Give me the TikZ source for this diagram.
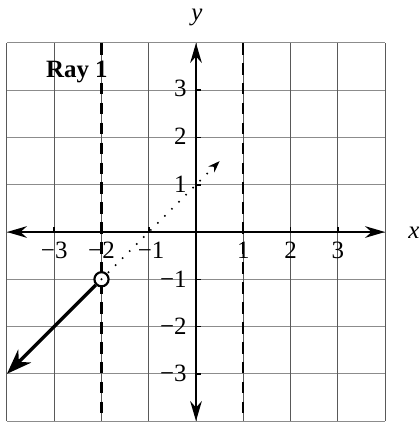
\documentclass[tikz,border=0pt]{standalone}
\usepackage{fontspec}
\setmainfont{Liberation Serif}
\usetikzlibrary{arrows.meta}
\begin{document}
\begin{tikzpicture}[
  gridv/.style={draw=black!65, line width=0.6pt},
  gridh/.style={draw=black!45, line width=0.6pt},
  axisline/.style={line width=1.2pt, {Stealth[length=12pt,width=7pt]}-{Stealth[length=12pt,width=7pt]}},
  asym/.style={line width=1.3pt, dash pattern=on 7pt off 5pt},
  tickmark/.style={line width=0.9pt},
  lab/.style={font=\fontsize{15}{18}\selectfont, inner sep=0pt},
  raystyle/.style={line width=2.1pt, -{Stealth[length=15pt,width=11pt]}},
  dotray/.style={line width=1.3pt, line cap=round, dash pattern=on 0pt off 6pt, -{Stealth[length=7pt,width=5pt]}},
  opendot/.style={circle, draw, fill=white, line width=1.3pt, minimum size=0.3cm, inner sep=0pt}
]
\useasboundingbox (-4.148,-4.063) rectangle (4.720,4.910);
% grid
\foreach \i in {-4,...,4} {
  \draw[gridh] (-4,\i) -- (4,\i);
}
\foreach \i in {-4,...,4} {
  \draw[gridv] (\i,-4) -- (\i,4);
}
% asymptotes
\coordinate (a1t) at (-2,4);
\coordinate (a1b) at (-2,-4);
\coordinate (a2t) at (1,4);
\coordinate (a2b) at (1,-4);
\draw[asym] (a1t) -- (a1b);
\draw[asym] (a2t) -- (a2b);
% axes
\coordinate (xl) at (-4,0);
\coordinate (xr) at (4,0);
\coordinate (yb) at (0,-4);
\coordinate (yt) at (0,4);
\draw[axisline] (xl) -- (xr);
\draw[axisline] (yb) -- (yt);
\foreach \i in {-3,-2,-1,1,2,3} {
  \draw[tickmark] (\i,0) -- (\i,0.1);
  \draw[tickmark] (0,\i) -- (0.1,\i);
}
% axis labels
\node[lab] (xlab) at (4.61,-0.01) {\textit{x}};
\node[lab] (ylab) at (0.02,4.55) {\textit{y}};
% x tick labels
\node[lab] (xm3) at (-3,-0.38) {−3};
\node[lab] (xm2) at (-2,-0.38) {−2};
\node[lab] (xm1) at (-0.95,-0.38) {−1};
\node[lab] (xp1) at (1,-0.38) {1};
\node[lab] (xp2) at (2,-0.38) {2};
\node[lab] (xp3) at (3,-0.38) {3};
% y tick labels
\node[lab, anchor=east] (yp3) at (-0.19,3.03) {3};
\node[lab, anchor=east] (yp2) at (-0.19,2.03) {2};
\node[lab, anchor=east] (yp1) at (-0.19,1.0) {1};
\node[lab, anchor=east] (ym1) at (-0.19,-1.0) {−1};
\node[lab, anchor=east] (ym2) at (-0.19,-2.0) {−2};
\node[lab, anchor=east] (ym3) at (-0.19,-3.0) {−3};
% title
\node[lab, anchor=base] (title) at (-2.52,3.26) {\textbf{Ray 1}};
% ray
\node[opendot] (p) at (-2,-1) {};
\coordinate (r) at (-4,-3);
\coordinate (d) at (0.5,1.5);
\draw[raystyle] (p) -- (r);
\draw[dotray] (p.center) -- (d);
\end{tikzpicture}
\end{document}
